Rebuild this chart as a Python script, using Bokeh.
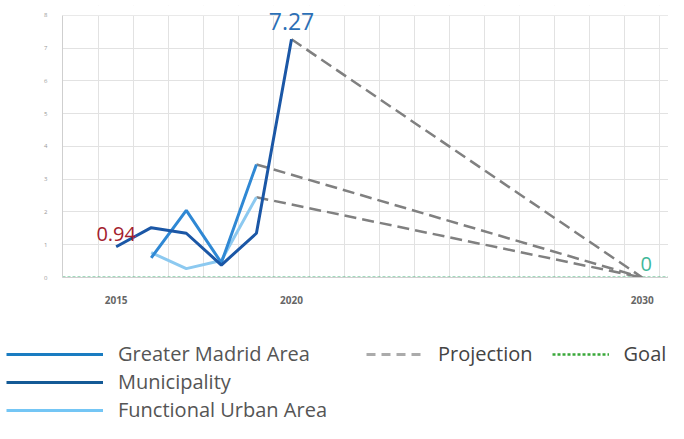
import numpy as np
from bokeh.plotting import figure
from bokeh.layouts import column
from bokeh.models import (Legend, LegendItem, FixedTicker, ColumnDataSource,
                          LabelSet, BoxAnnotation)
from bokeh.core.properties import value
from bokeh.embed import file_html
from bokeh.resources import INLINE

# ---- data ----
years_muni = [2015, 2016, 2017, 2018, 2019, 2020]
muni = [0.94, 1.52, 1.35, 0.38, 1.35, 7.27]
years_gma = [2016, 2017, 2018, 2019]
gma = [0.60, 2.05, 0.45, 3.45]
years_fua = [2016, 2017, 2018, 2019]
fua = [0.76, 0.27, 0.52, 2.45]
proj_xs = [[2020, 2030], [2019, 2030], [2019, 2030]]
proj_ys = [[7.27, 0], [3.45, 0], [2.45, 0]]
goal_x = [2013.47, 2030.75]
goal_y = [0, 0]
x_ticks = [2015, 2020, 2030]
y_ticks = [0, 1, 2, 3, 4, 5, 6, 7, 8]
y_max = 8
lab_x = [2015, 2020, 2030]
lab_y = [0.94, 7.27, 0]
lab_text = ["0.94", "7.27", "0"]
lab_color = ["#a3212e", "#2b6fb6", "#3fb89a"]
lab_size = ["20px", "23px", "20px"]
lab_dx = [0, 0, 4]
lab_dy = [6, 9, 7]

FONT = "Open Sans"
W = 668

p = figure(width=W, height=306, output_backend="svg", toolbar_location=None,
           x_range=(2013.47, 2030.75), y_range=(0, 8.3),
           min_border_left=62, min_border_right=0, min_border_top=5,
           min_border_bottom=28)
p.outline_line_color = None
p.frame_align = False

# grids
p.xgrid.ticker = FixedTicker(ticks=[y + 0.5 for y in range(2014, 2031)])
p.ygrid.ticker = FixedTicker(ticks=y_ticks)
p.xgrid.grid_line_color = "#e2e2e2"
p.ygrid.grid_line_color = "#e2e2e2"
# blank band above the top gridline (room for the 7.27 label)
p.add_layout(BoxAnnotation(bottom=y_max, fill_color="white", fill_alpha=1,
                           line_alpha=0, level="underlay"))

# axes
p.xaxis.ticker = FixedTicker(ticks=x_ticks)
p.yaxis.ticker = FixedTicker(ticks=y_ticks)
p.yaxis.bounds = (0, y_max)
for ax in (p.xaxis[0], p.yaxis[0]):
    ax.axis_line_color = "#cfcfcf"
    ax.major_tick_line_color = None
    ax.minor_tick_line_color = None
    ax.major_label_text_font = FONT
p.xaxis.major_label_text_font_size = "10px"
p.xaxis.major_label_text_color = "#666666"
p.xaxis.major_label_text_font_style = "bold"
p.xaxis.major_label_standoff = 12
p.yaxis.major_label_text_font_size = "6px"
p.yaxis.major_label_text_color = "#999999"
p.yaxis.major_label_standoff = 9

# series
p.line(goal_x, goal_y, line_color="#49b87f", line_width=2, line_dash="3 2")
p.multi_line(proj_xs, proj_ys, line_color="#808080", line_width=2.5,
             line_dash="12 6")
p.line(years_fua, fua, line_color="#8cc9f0", line_width=3)
p.line(years_gma, gma, line_color="#2f88d4", line_width=3)
p.line(years_muni, muni, line_color="#1b57a6", line_width=3)

src = ColumnDataSource(dict(x=lab_x, y=lab_y, t=lab_text, c=lab_color,
                            s=lab_size, dx=lab_dx, dy=lab_dy))
p.add_layout(LabelSet(x="x", y="y", text="t", text_color="c", text_font_size="s",
                      x_offset="dx", y_offset="dy", text_align="center",
                      text_baseline="bottom", text_font=value(FONT), source=src))

# ---- legend panel ----
q = figure(width=W, height=117, output_backend="svg", toolbar_location=None,
           x_axis_type=None, y_axis_type=None, x_range=(0, 1), y_range=(0, 1),
           min_border_left=0, min_border_right=0, min_border_top=0,
           min_border_bottom=0)
q.frame_align = False
q.outline_line_color = None
q.xgrid.visible = False
q.ygrid.visible = False
e = np.array([np.nan])
l_gma = q.line(e, e, line_color="#1a7cc1", line_width=3)
l_muni = q.line(e, e, line_color="#145a96", line_width=3)
l_fua = q.line(e, e, line_color="#74c6f5", line_width=3)
l_proj = q.line(e, e, line_color="#ababab", line_width=3, line_dash="9 6")
l_goal = q.line(e, e, line_color="#3aa83a", line_width=2.5, line_dash="3 2")

leg1 = Legend(items=[LegendItem(label="Greater Madrid Area", renderers=[l_gma]),
                     LegendItem(label="Municipality", renderers=[l_muni]),
                     LegendItem(label="Functional Urban Area", renderers=[l_fua])],
              location=(6, 0), orientation="vertical",
              glyph_width=97, glyph_height=20, label_height=20,
              label_standoff=15, spacing=1, padding=0, margin=0,
              border_line_alpha=0, background_fill_alpha=0,
              label_text_font_size="20px", label_text_font=FONT,
              label_text_color="#555555")
leg2 = Legend(items=[LegendItem(label="Projection", renderers=[l_proj]),
                     LegendItem(label="Goal", renderers=[l_goal])],
              location=(366, 56), orientation="horizontal",
              glyph_width=57, glyph_height=20, label_height=20,
              label_standoff=15, spacing=19, padding=0, margin=0,
              border_line_alpha=0, background_fill_alpha=0,
              label_text_font_size="20px", label_text_font=FONT,
              label_text_color="#444444")
q.add_layout(leg1)
q.add_layout(leg2)

layout = column(p, q, spacing=0)
open("out.html", "w").write(file_html(layout, INLINE))
